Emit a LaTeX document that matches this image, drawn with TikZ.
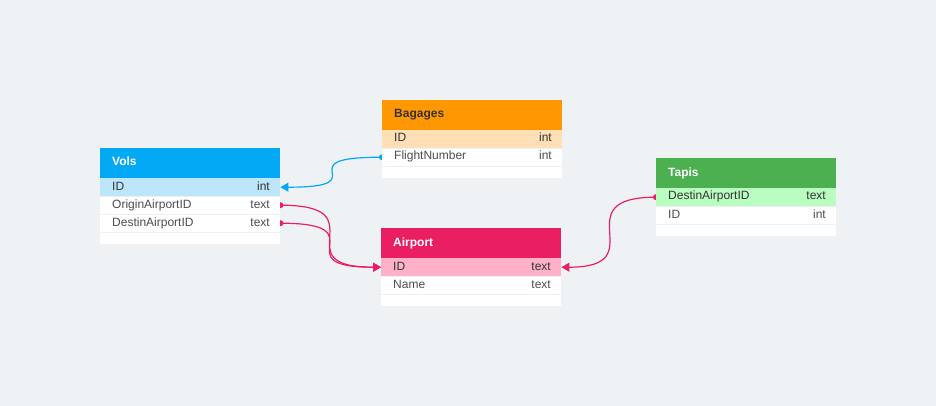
\documentclass[tikz,border=0pt]{standalone}
\usepackage{fontspec}
\setmainfont{Liberation Sans}
\usetikzlibrary{arrows.meta}
\pgfdeclarelayer{bgfill}
\pgfdeclarelayer{links}
\pgfsetlayers{bgfill,links,main}
\definecolor{bg}{HTML}{EFF2F5}
\definecolor{volsH}{HTML}{03A9F4}
\definecolor{volsP}{HTML}{BDE6FB}
\definecolor{bagH}{HTML}{FF9800}
\definecolor{bagP}{HTML}{FFDFB6}
\definecolor{airH}{HTML}{E91E63}
\definecolor{airP}{HTML}{FFB1C8}
\definecolor{tapH}{HTML}{4CAF50}
\definecolor{tapP}{HTML}{BAFDC1}
\definecolor{txt}{HTML}{4D4D4D}
\definecolor{pktxt}{HTML}{333333}
\definecolor{sepc}{HTML}{EEF1F4}
\tikzset{
  hdr/.style={rectangle, inner sep=0pt, minimum width=180pt, minimum height=30pt, anchor=north west},
  fld/.style={rectangle, inner sep=0pt, minimum width=180pt, minimum height=18pt, anchor=north west, fill=white},
  tblfoot/.style={rectangle, inner sep=0pt, minimum width=180pt, minimum height=11.5pt, anchor=north west, fill=white},
  tbltitle/.style={font=\bfseries\fontsize{12}{14}\selectfont, anchor=base west, inner sep=0pt, text=white},
  fname/.style={font=\fontsize{12}{14}\selectfont, anchor=base west, inner sep=0pt, text=txt},
  ftype/.style={font=\fontsize{12}{14}\selectfont, anchor=base east, inner sep=0pt, text=txt},
  pkname/.style={fname, text=pktxt},
  pktype/.style={ftype, text=pktxt},
  sepline/.style={draw=sepc, line width=1.3pt},
  rel/.style={line width=1.2pt, -{Triangle[length=8pt,width=9pt]}},
}
\begin{document}
\begin{tikzpicture}[x=1pt,y=-1pt]
\useasboundingbox (0,0) rectangle (936,406);
\begin{pgfonlayer}{bgfill}
\fill[bg] (0,0) rectangle (936,406);
\end{pgfonlayer}

% ---------- Vols ----------
\node[hdr, fill=volsH] (vols-head) at (100,148) {};
\node[tbltitle] (vols-title) at (112,166) {Vols};
\node[fld, fill=volsP] (vols-1) at (100,178) {};
\node[fld] (vols-2) at (100,196) {};
\node[fld] (vols-3) at (100,214) {};
\node[tblfoot] (vols-foot) at (100,232) {};
\draw[sepline] (vols-1.south west) -- (vols-1.south east);
\draw[sepline] (vols-2.south west) -- (vols-2.south east);
\draw[sepline] (vols-3.south west) -- (vols-3.south east);
\node[pkname] (vols-1n) at (112,190) {ID};
\node[pktype] (vols-1t) at (270,190) {int};
\node[fname] (vols-2n) at (112,208) {OriginAirportID};
\node[ftype] (vols-2t) at (270,208) {text};
\node[fname] (vols-3n) at (112,226) {DestinAirportID};
\node[ftype] (vols-3t) at (270,226) {text};

% ---------- Bagages ----------
\node[hdr, fill=bagH] (bag-head) at (382,100) {};
\node[tbltitle, text=pktxt] (bag-title) at (394,118) {Bagages};
\node[fld, fill=bagP] (bag-1) at (382,130) {};
\node[fld] (bag-2) at (382,148) {};
\node[tblfoot] (bag-foot) at (382,166) {};
\draw[sepline] (bag-1.south west) -- (bag-1.south east);
\draw[sepline] (bag-2.south west) -- (bag-2.south east);
\node[pkname] (bag-1n) at (394,142) {ID};
\node[pktype] (bag-1t) at (552,142) {int};
\node[fname] (bag-2n) at (394,160) {FlightNumber};
\node[ftype] (bag-2t) at (552,160) {int};

% ---------- Airport ----------
\node[hdr, fill=airH] (air-head) at (381,228) {};
\node[tbltitle] (air-title) at (393,246) {Airport};
\node[fld, fill=airP] (air-1) at (381,258) {};
\node[fld] (air-2) at (381,276) {};
\node[tblfoot] (air-foot) at (381,294) {};
\draw[sepline] (air-1.south west) -- (air-1.south east);
\draw[sepline] (air-2.south west) -- (air-2.south east);
\node[pkname] (air-1n) at (393,270) {ID};
\node[pktype] (air-1t) at (551,270) {text};
\node[fname] (air-2n) at (393,288) {Name};
\node[ftype] (air-2t) at (551,288) {text};

% ---------- Tapis ----------
\node[hdr, fill=tapH] (tap-head) at (656,158) {};
\node[tbltitle] (tap-title) at (668,176) {Tapis};
\node[fld, fill=tapP] (tap-1) at (656,188) {};
\node[fld] (tap-2) at (656,206) {};
\node[tblfoot] (tap-foot) at (656,224) {};
\draw[sepline] (tap-1.south west) -- (tap-1.south east);
\draw[sepline] (tap-2.south west) -- (tap-2.south east);
\node[pkname] (tap-1n) at (668,200) {DestinAirportID};
\node[pktype] (tap-1t) at (826,200) {text};
\node[fname] (tap-2n) at (668,218) {ID};
\node[ftype] (tap-2t) at (826,218) {int};

% ---------- relations ----------
\begin{pgfonlayer}{links}
\draw[rel, color=volsH] (bag-2.west) .. controls (vols-1.east |- bag-2.west) and (bag-2.west |- vols-1.east) .. (vols-1.east);
\fill[volsH] (bag-2.west) circle (3pt);
\draw[rel, color=airH] (vols-2.east) .. controls (air-1.west |- vols-2.east) and (vols-2.east |- air-1.west) .. (air-1.west);
\fill[airH] (vols-2.east) circle (3pt);
\draw[rel, color=airH] (vols-3.east) .. controls (air-1.west |- vols-3.east) and (vols-3.east |- air-1.west) .. (air-1.west);
\fill[airH] (vols-3.east) circle (3pt);
\draw[rel, color=airH] (tap-1.west) .. controls (air-1.east |- tap-1.west) and (tap-1.west |- air-1.east) .. (air-1.east);
\fill[airH] (tap-1.west) circle (3pt);
\end{pgfonlayer}
\end{tikzpicture}
\end{document}
